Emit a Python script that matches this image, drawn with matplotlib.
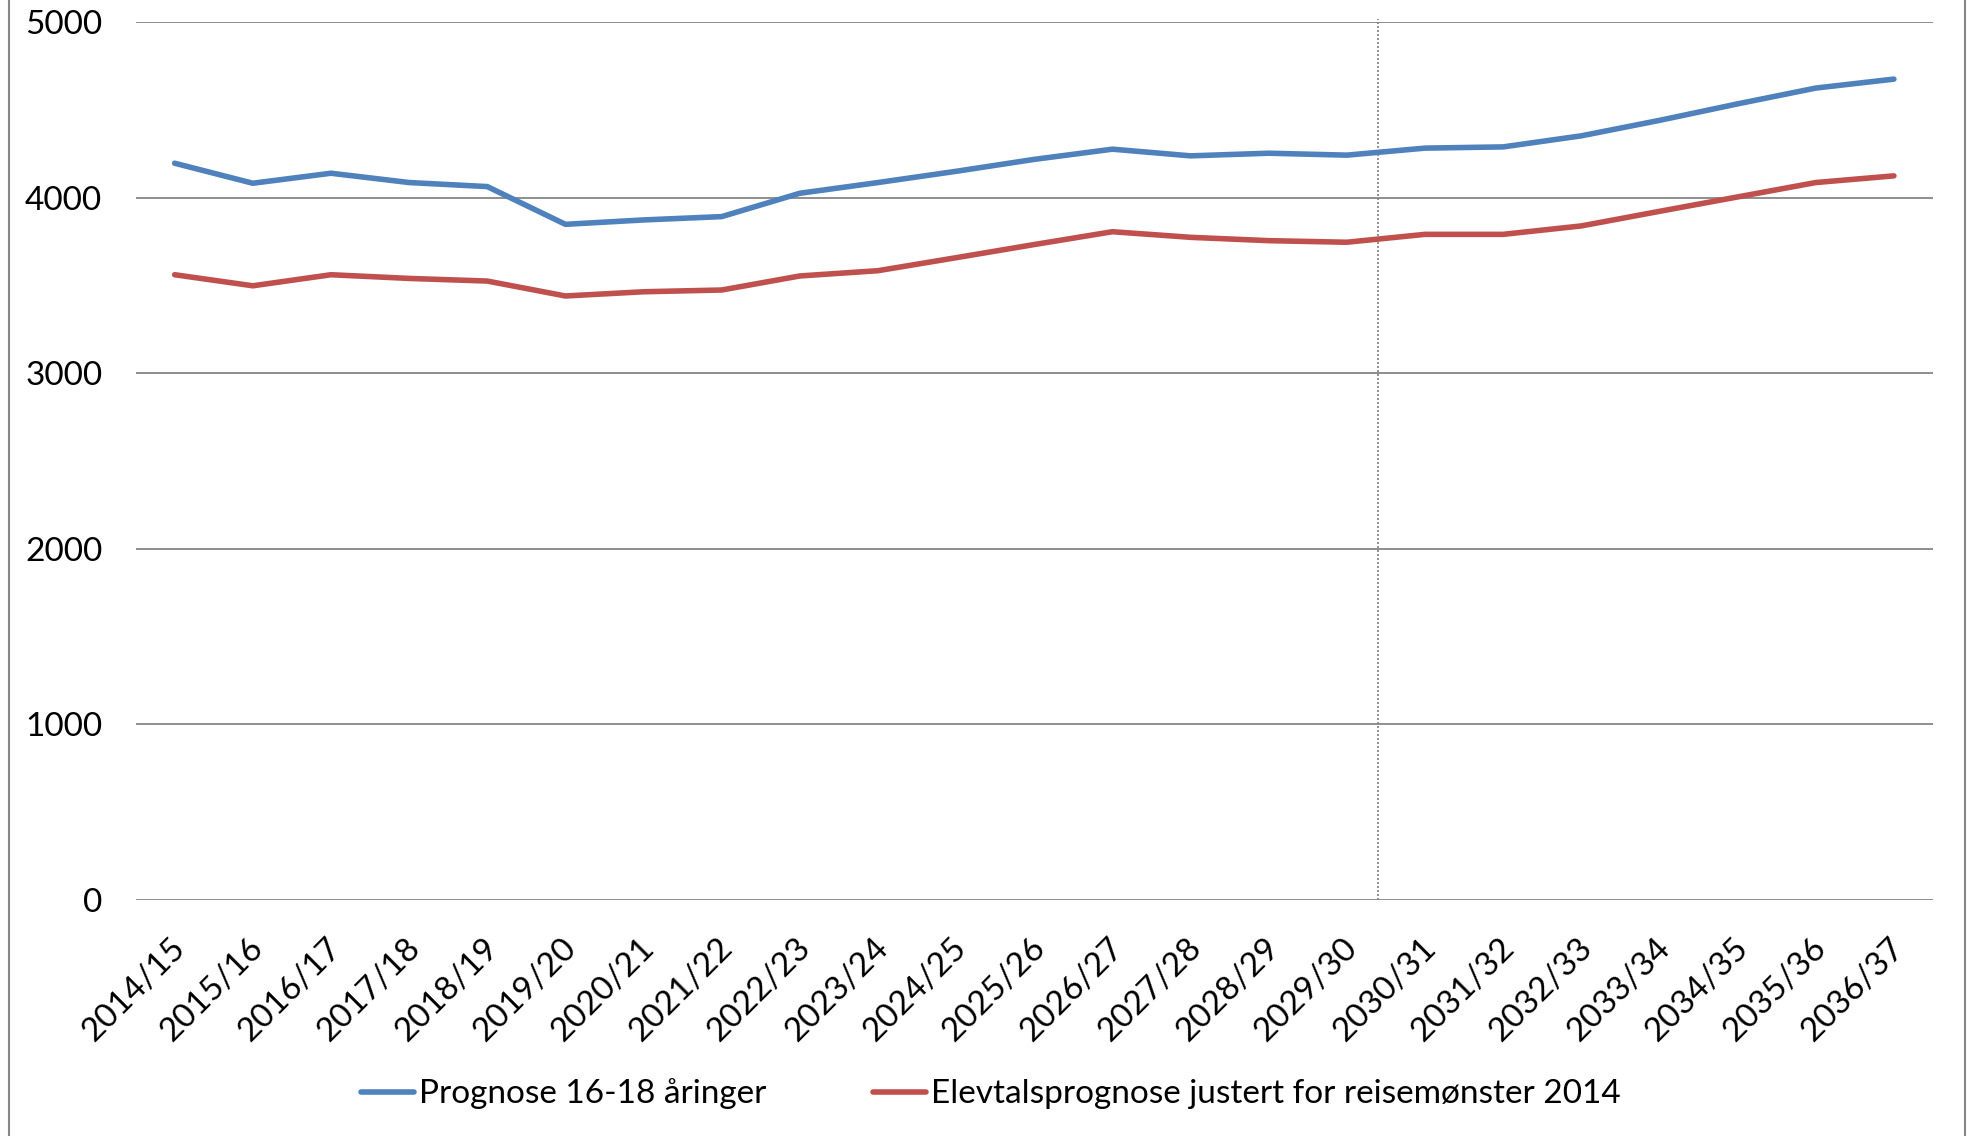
import matplotlib
matplotlib.use("Agg")
import matplotlib.pyplot as plt
from matplotlib.lines import Line2D
from matplotlib.transforms import ScaledTranslation

categories = ["2014/15", "2015/16", "2016/17", "2017/18", "2018/19", "2019/20",
              "2020/21", "2021/22", "2022/23", "2023/24", "2024/25", "2025/26",
              "2026/27", "2027/28", "2028/29", "2029/30", "2030/31", "2031/32",
              "2032/33", "2033/34", "2034/35", "2035/36", "2036/37"]
prognose = [4196, 4082, 4139, 4086, 4063, 3848, 3873, 3892, 4025, 4086, 4150,
            4218, 4276, 4238, 4253, 4242, 4282, 4289, 4352, 4440, 4534, 4624, 4675]
elevtal = [3561, 3498, 3561, 3540, 3525, 3440, 3464, 3474, 3554, 3584, 3658,
           3733, 3806, 3774, 3755, 3746, 3791, 3791, 3839, 3922, 4004, 4086, 4124]
series_names = ["Prognose 16-18 åringer", "Elevtalsprognose justert for reisemønster 2014"]
y_ticks = [0, 1000, 2000, 3000, 4000, 5000]
marker_pos = 15.4

plt.rcParams['font.family'] = ['Lato', 'DejaVu Sans']

fig = plt.figure(figsize=(19.68, 11.36), dpi=100)
ax = fig.add_axes([0.0689, 0.2077, 0.9133, 0.7729])

x = list(range(len(categories)))
ax.plot(x, prognose, color="#4F81BD", lw=4.0, solid_capstyle="round", label=series_names[0])
ax.plot(x, elevtal, color="#C0504D", lw=4.0, solid_capstyle="round", label=series_names[1])

ax.set_xlim(-0.5, len(categories) - 0.5)
ax.set_ylim(0, 5000)
ax.set_yticks(y_ticks)
ax.set_yticklabels([str(v) for v in y_ticks], fontsize=24)
ax.yaxis.grid(True, color="#868686", lw=1.3)
ax.set_axisbelow(True)
for s in ax.spines.values():
    s.set_visible(False)
ax.tick_params(axis="y", length=0, pad=24)
ax.tick_params(axis="x", length=0, pad=31)
ax.set_xticks(x)
ax.set_xticklabels(categories, fontsize=24, rotation=45, ha="right", va="center",
                   rotation_mode="anchor")
offset = ScaledTranslation(6 / 100, 0, fig.dpi_scale_trans)
for lbl in ax.get_xticklabels():
    lbl.set_transform(lbl.get_transform() + offset)

ax.plot([marker_pos, marker_pos], [0, 5020], color="#808080", lw=1.2,
        linestyle=(0, (1.2, 1.2)), clip_on=False, zorder=1)

fig.legend(loc="center", bbox_to_anchor=(0.5035, 0.037), ncol=2, frameon=False,
           fontsize=24, handlelength=1.6, handletextpad=0.15, columnspacing=3.2)

fig.add_artist(Line2D([0.0046, 0.0046], [0, 1], color="#868686", lw=1.5))
fig.add_artist(Line2D([0.9985, 0.9985], [0, 1], color="#868686", lw=1.5))

fig.savefig("out.png", dpi=100)
